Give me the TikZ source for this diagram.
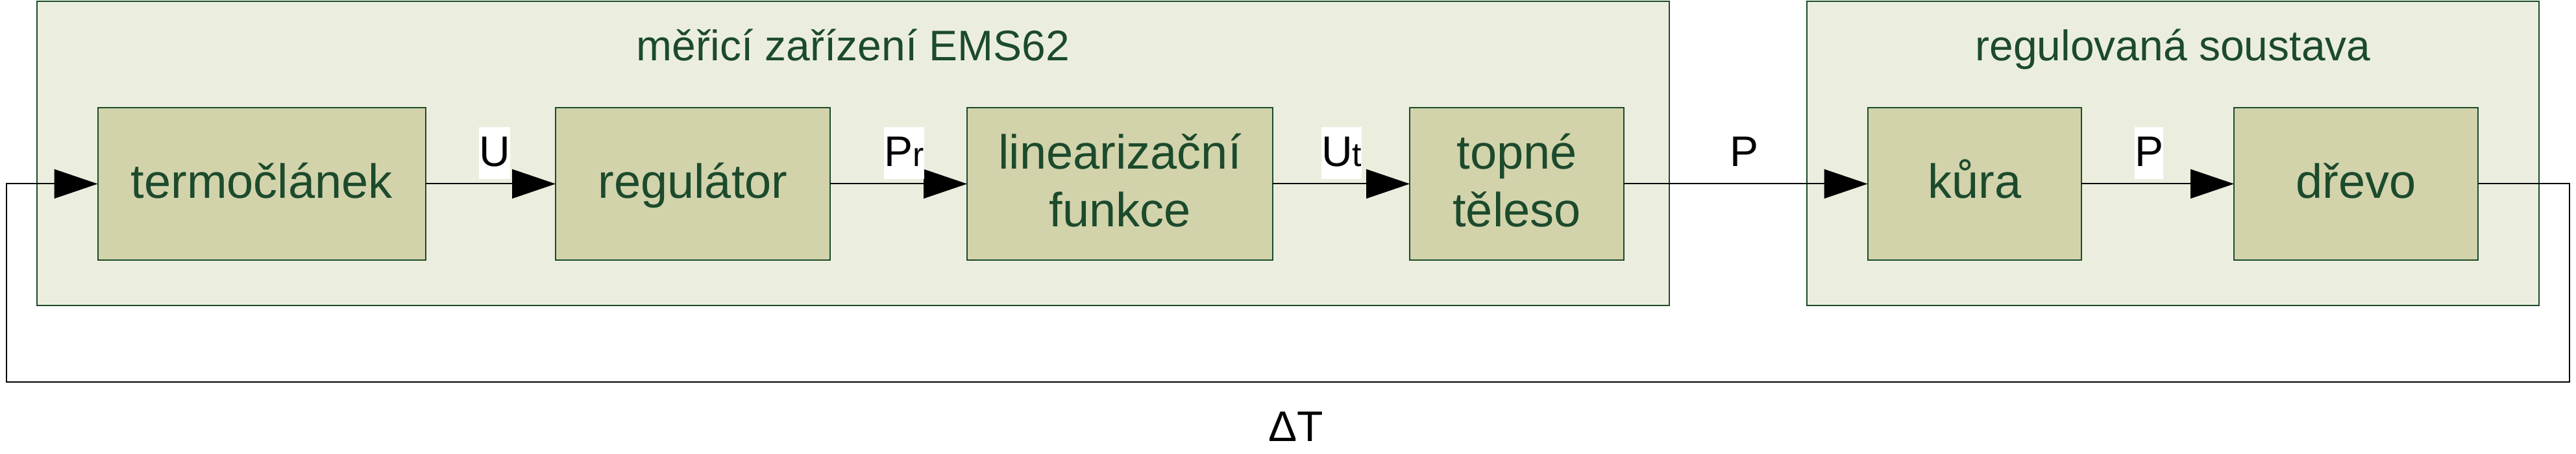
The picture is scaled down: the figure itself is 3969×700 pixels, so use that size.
\documentclass[tikz,border=0pt]{standalone}
\usepackage{fontspec}
\setmainfont{Liberation Sans}
\usetikzlibrary{arrows.meta}
\definecolor{outerfill}{RGB}{235,238,222}
\definecolor{innerfill}{RGB}{210,211,171}
\definecolor{edgegreen}{RGB}{27,74,43}
\definecolor{textgreen}{RGB}{28,74,44}
\begin{document}
\begin{tikzpicture}[x=1pt,y=-1pt,
  outerbox/.style={draw=edgegreen, fill=outerfill, line width=2pt, inner sep=0pt, outer sep=0pt},
  innerbox/.style={draw=edgegreen, fill=innerfill, line width=2pt, inner sep=0pt, outer sep=0pt, minimum height=235pt},
  boxtext/.style={text=textgreen, font=\fontsize{74}{89}\selectfont, inner sep=0pt, anchor=base},
  titletext/.style={text=textgreen, font=\fontsize{66}{79}\selectfont, inner sep=0pt, anchor=base},
  siglabel/.style={fill=white, text=black, font=\fontsize{66}{79}\selectfont, inner sep=0pt, text height=61pt, text depth=19pt, anchor=south west},
  conn/.style={draw=black, line width=2pt, -{Triangle[length=67pt,width=45pt]}},
]
\useasboundingbox (0,0) rectangle (3969,700);

% outer groups
\node[outerbox, minimum width=2515pt, minimum height=469pt] (dev) at (1314.5,236.5) {};
\node[outerbox, minimum width=1128pt, minimum height=469pt] (sys) at (3348,236.5) {};
\node[titletext] (devtitle) at (1314.5,94) {měřicí zařízení EMS62};
\node[titletext] (systitle) at (3348,94) {regulovaná soustava};

% inner blocks
\node[innerbox, minimum width=505.5pt] (termo) at (403.25,283.5) {};
\node[innerbox, minimum width=423pt] (reg) at (1067.5,283.5) {};
\node[innerbox, minimum width=471pt] (lin) at (1725.5,283.5) {};
\node[innerbox, minimum width=330pt] (top) at (2337,283.5) {};
\node[innerbox, minimum width=329.5pt] (kura) at (3042.25,283.5) {};
\node[innerbox, minimum width=376pt] (drevo) at (3630,283.5) {};

\node[boxtext] (termotxt) at (403.25,306) {termočlánek};
\node[boxtext] (regtxt) at (1067.5,306) {regulátor};
\node[boxtext] (lintxta) at (1725.5,261) {linearizační};
\node[boxtext] (lintxtb) at (1725.5,350) {funkce};
\node[boxtext] (toptxta) at (2337,261) {topné};
\node[boxtext] (toptxtb) at (2337,350) {těleso};
\node[boxtext] (kuratxt) at (3042.25,306) {kůra};
\node[boxtext] (drevotxt) at (3630,306) {dřevo};

% connectors
\draw[conn] (termo.east) -- (reg.west);
\draw[conn] (reg.east) -- (lin.west);
\draw[conn] (lin.east) -- (top.west);
\draw[conn] (top.east) -- (kura.west);
\draw[conn] (kura.east) -- (drevo.west);

% feedback loop
\coordinate (fbR) at (3959,283.5);
\coordinate (fbRB) at (3959,589);
\coordinate (fbLB) at (9.6,589);
\coordinate (fbL) at (9.6,283.5);
\draw[conn] (drevo.east) -- (fbR) -- (fbRB) -- (fbLB) -- (fbL) -- (termo.west);

% signal labels
\node[siglabel] (lU) at (738,276) {U};
\node[siglabel] (lPr) at (1362,276) {P{\fontsize{52}{60}\selectfont r}};
\node[siglabel] (lUt) at (2036,276) {U{\fontsize{52}{60}\selectfont t}};
\node[siglabel] (lP1) at (2665,276) {P};
\node[siglabel] (lP2) at (3289,276) {P};
\node[font=\fontsize{66}{79}\selectfont, inner sep=0pt, anchor=base] (dT) at (1997,680) {ΔT};
\end{tikzpicture}
\end{document}
